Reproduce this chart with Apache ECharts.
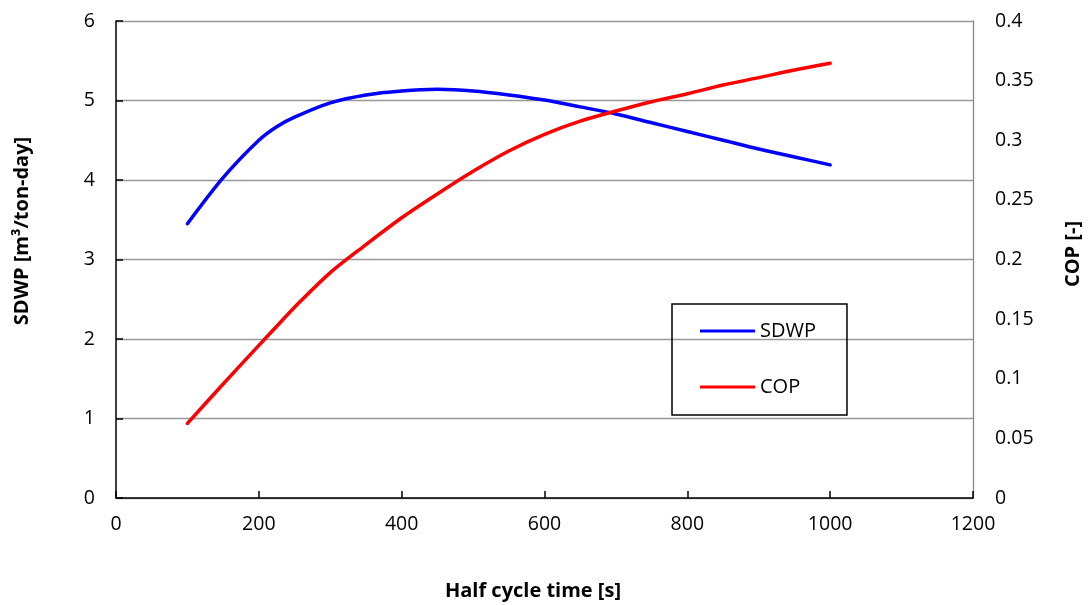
<!DOCTYPE html>
<html><head><meta charset="utf-8">
<script src="https://cdn.jsdelivr.net/npm/echarts@6/dist/echarts.min.js"></script>
<style>html,body{margin:0;padding:0;background:#fff}#c{width:1089px;height:605px}</style>
</head><body><div id="c"></div>
<script>
const halfCycleTime = [100, 150, 200, 225, 250, 300, 350, 400, 450, 500, 550, 600, 650, 700, 750, 800, 850, 900, 950, 1000];
const sdwp = [3.45, 4.03, 4.50, 4.67, 4.79, 4.97, 5.07, 5.12, 5.14, 5.12, 5.07, 5.006, 4.92, 4.83, 4.72, 4.61, 4.50, 4.39, 4.29, 4.19];
const cop = [0.0626, 0.0956, 0.128, 0.144, 0.160, 0.189, 0.2125, 0.235, 0.255, 0.274, 0.291, 0.305, 0.316, 0.3245, 0.3323, 0.339, 0.3463, 0.3525, 0.3589, 0.3645];
const xTicks = {min: 0, max: 1200, step: 200};
const yLeftTicks = {min: 0, max: 6, step: 1};
const yRightTicks = {min: 0, max: 0.4, step: 0.05};
const titles = {x: 'Half cycle time [s]', yLeft: 'SDWP [m³/ton-day]', yRight: 'COP [-]'};

const FONT = '"Open Sans", "Noto Sans", sans-serif';
const titleStyle = {fontFamily: FONT, fontSize: 20, fontWeight: 'bold', fill: '#000', align: 'center', verticalAlign: 'middle'};
const chart = echarts.init(document.getElementById('c'), null, {renderer: 'canvas'});
chart.setOption({
  animation: false,
  backgroundColor: '#fff',
  grid: {left: 116, right: 116, top: 21, bottom: 107},
  legend: {
    orient: 'vertical', left: 672, top: 304,
    padding: [17, 31, 18, 28], itemGap: 36,
    borderColor: '#000', borderWidth: 1.5,
    icon: 'rect', itemWidth: 55, itemHeight: 3,
    textStyle: {fontFamily: FONT, fontSize: 20, color: '#000'},
    data: ['SDWP', 'COP']
  },
  graphic: [
    {type: 'text', x: 533, y: 591, style: Object.assign({text: titles.x}, titleStyle)},
    {type: 'text', x: 22, y: 231, rotation: Math.PI / 2, style: Object.assign({text: titles.yLeft}, titleStyle)},
    {type: 'text', x: 1073, y: 254, rotation: Math.PI / 2, style: Object.assign({text: titles.yRight}, titleStyle)}
  ],
  xAxis: {
    type: 'value', min: xTicks.min, max: xTicks.max, interval: xTicks.step,
    axisLine: {show: true, lineStyle: {color: '#000', width: 1.5}},
    axisTick: {show: true, inside: true, length: 7, lineStyle: {color: '#000', width: 1.5}},
    axisLabel: {fontFamily: FONT, fontSize: 19.5, color: '#000', margin: 16, formatter: v => String(v)},
    splitLine: {show: false}
  },
  yAxis: [{
    type: 'value', min: yLeftTicks.min, max: yLeftTicks.max, interval: yLeftTicks.step, position: 'left',
    axisLine: {show: true, lineStyle: {color: '#000', width: 1.5}},
    axisTick: {show: true, inside: true, length: 7, lineStyle: {color: '#000', width: 1.5}},
    axisLabel: {fontFamily: FONT, fontSize: 19.5, color: '#000', margin: 21},
    splitLine: {show: true, lineStyle: {color: '#999', width: 1.3}}
  }, {
    type: 'value', min: yRightTicks.min, max: yRightTicks.max, interval: yRightTicks.step, position: 'right',
    axisLine: {show: true, lineStyle: {color: '#888', width: 1.3}},
    axisTick: {show: false},
    axisLabel: {fontFamily: FONT, fontSize: 19.5, color: '#000', margin: 22, formatter: v => String(+v.toFixed(2))},
    splitLine: {show: false}
  }],
  series: [{
    name: 'SDWP', type: 'line', yAxisIndex: 0, smooth: 0.3, showSymbol: false,
    lineStyle: {color: '#0000ff', width: 3.5, cap: 'round'}, itemStyle: {color: '#0000ff'},
    data: halfCycleTime.map((x, i) => [x, sdwp[i]])
  }, {
    name: 'COP', type: 'line', yAxisIndex: 1, smooth: 0.3, showSymbol: false,
    lineStyle: {color: '#ff0000', width: 3.5, cap: 'round'}, itemStyle: {color: '#ff0000'},
    data: halfCycleTime.map((x, i) => [x, cop[i]])
  }]
});
</script></body></html>
